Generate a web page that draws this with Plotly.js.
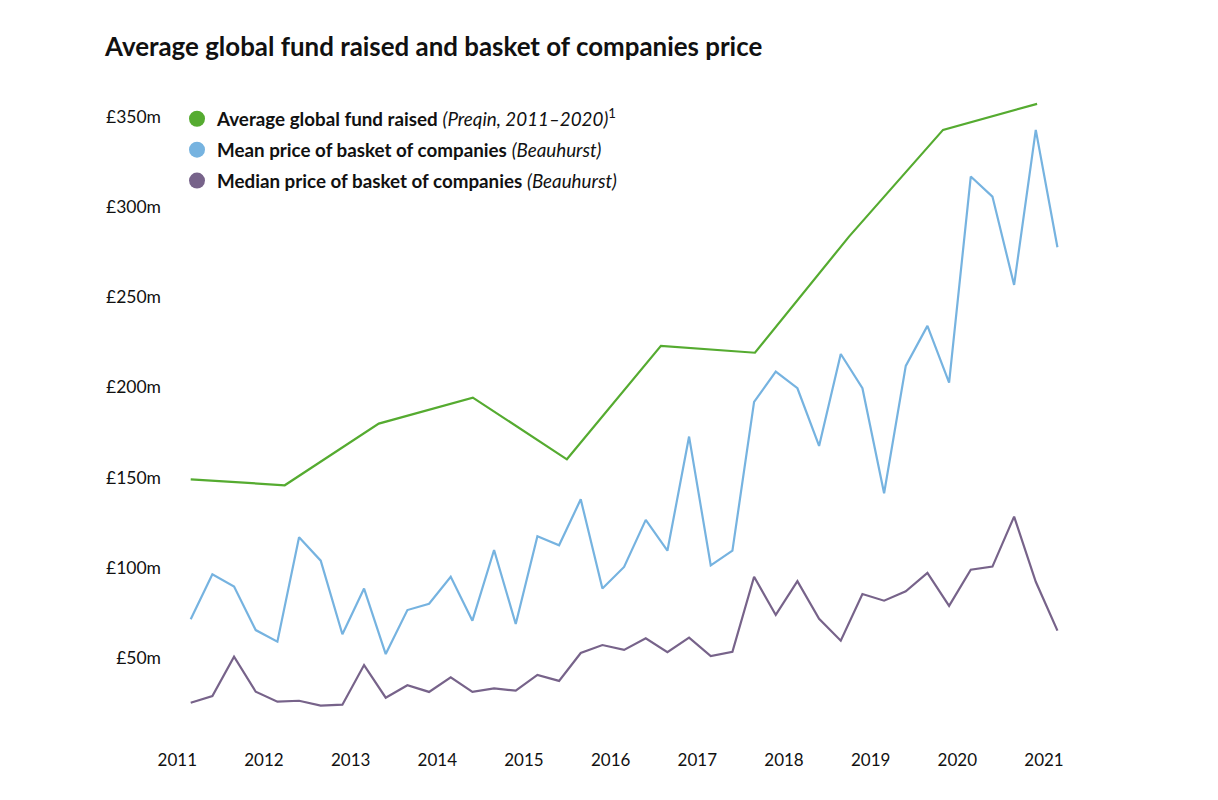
<!DOCTYPE html>
<html>
<head>
<meta charset="utf-8">
<script src="https://cdn.plot.ly/plotly-3.0.1.min.js"></script>
<style>
  html, body { margin: 0; padding: 0; background: #ffffff; }
  #chart { width: 1218px; height: 800px; }
</style>
</head>
<body>
<div id="chart"></div>
<script>
// ---- Data ----
const fundYears = [2011.155, 2012.24, 2013.325, 2014.41, 2015.495, 2016.58, 2017.665, 2018.75, 2019.835, 2020.92];
const fundRaised = [149.0, 145.7, 179.9, 194.3, 160.1, 223.0, 219.2, 283.6, 342.8, 357.2];

const quarterStart = 2011.155;
const quarterLabels = [
  "2011 Q1","2011 Q2","2011 Q3","2011 Q4",
  "2012 Q1","2012 Q2","2012 Q3","2012 Q4",
  "2013 Q1","2013 Q2","2013 Q3","2013 Q4",
  "2014 Q1","2014 Q2","2014 Q3","2014 Q4",
  "2015 Q1","2015 Q2","2015 Q3","2015 Q4",
  "2016 Q1","2016 Q2","2016 Q3","2016 Q4",
  "2017 Q1","2017 Q2","2017 Q3","2017 Q4",
  "2018 Q1","2018 Q2","2018 Q3","2018 Q4",
  "2019 Q1","2019 Q2","2019 Q3","2019 Q4",
  "2020 Q1","2020 Q2","2020 Q3","2020 Q4",
  "2021 Q1"
];
const meanPrice = [
  71.4, 96.3, 89.5, 65.4, 59.0, 116.9, 103.9, 63.1, 88.4, 52.1,
  76.5, 80.0, 95.0, 70.6, 109.8, 68.8, 117.4, 112.4, 137.9, 88.4,
  100.4, 126.5, 109.4, 172.7, 101.3, 109.4, 191.9, 208.7, 199.5, 167.5,
  218.5, 199.5, 141.3, 211.9, 234.1, 202.6, 316.9, 305.8, 256.8, 342.8,
  277.7
];
const medianPrice = [
  25.1, 28.8, 50.6, 31.2, 25.7, 26.2, 23.5, 24.0, 46.0, 27.9,
  34.8, 31.1, 39.2, 31.1, 33.1, 31.8, 40.5, 37.2, 52.7, 57.1,
  54.4, 60.8, 53.1, 61.2, 51.0, 53.4, 95.0, 73.8, 92.5, 71.7,
  59.5, 85.4, 81.7, 86.9, 97.1, 78.8, 98.9, 100.6, 128.3, 92.2,
  65.1
];
const xTickVals = [2011, 2012, 2013, 2014, 2015, 2016, 2017, 2018, 2019, 2020, 2021];
const xTickText = ["2011","2012","2013","2014","2015","2016","2017","2018","2019","2020","2021"];
const yTickVals = [50, 100, 150, 200, 250, 300, 350];
const yTickText = ["£50m","£100m","£150m","£200m","£250m","£300m","£350m"];

const seriesNames = [
  "<b>Average global fund raised</b> <i>(Preqin, 2011–2020)</i><sup>1</sup>",
  "<b>Mean price of basket of companies</b> <i>(Beauhurst)</i>",
  "<b>Median price of basket of companies</b> <i>(Beauhurst)</i>"
];

// ---- Styles ----
const GREEN = "#55ab30";
const BLUE = "#76b3e0";
const PURPLE = "#77638a";
const FONT = "'Source Sans Pro', Lato, 'Open Sans', sans-serif";

const quarterX = quarterLabels.map((_, i) => quarterStart + i * 0.25);

const lineTraces = [
  { x: fundYears, y: fundRaised, color: GREEN },
  { x: quarterX, y: meanPrice, color: BLUE },
  { x: quarterX, y: medianPrice, color: PURPLE }
].map((s, i) => ({
  type: "scatter", mode: "lines", x: s.x, y: s.y,
  line: { color: s.color, width: 2.2 },
  showlegend: false, legendgroup: "g" + i, hoverinfo: "x+y",
  name: seriesNames[i]
}));

const legendTraces = [GREEN, BLUE, PURPLE].map((c, i) => ({
  type: "scatter", mode: "markers", x: [null], y: [null],
  marker: { color: c, size: 18, symbol: "circle" },
  name: seriesNames[i], legendgroup: "g" + i, showlegend: true
}));

const layout = {
  width: 1218, height: 800,
  paper_bgcolor: "#ffffff", plot_bgcolor: "#ffffff",
  margin: { l: 170, r: 118, t: 90, b: 52 },
  font: { family: FONT, color: "#111111", size: 17 },
  title: {
    text: "<b>Average global fund raised and basket of companies price</b>",
    x: 105 / 1218, xanchor: "left", xref: "container",
    y: 1 - 47 / 800, yanchor: "middle", yref: "container",
    font: { family: FONT, size: 25.9, color: "#111111" }
  },
  xaxis: {
    range: [2010.916, 2021.646],
    tickvals: xTickVals, ticktext: xTickText,
    showgrid: false, zeroline: false, showline: false, ticks: "",
    tickfont: { family: FONT, size: 17, color: "#111111" },
    fixedrange: true
  },
  yaxis: {
    range: [0, 364.9],
    tickvals: yTickVals, ticktext: yTickText,
    showgrid: false, zeroline: false, showline: false, ticks: "",
    tickfont: { family: FONT, size: 17.5, color: "#111111" },
    ticklabelstandoff: 8,
    fixedrange: true
  },
  showlegend: true,
  legend: {
    x: (177 - 170) / 930, xanchor: "left",
    y: 1 - 10 / 658, yanchor: "top",
    bgcolor: "rgba(0,0,0,0)",
    font: { family: FONT, size: 18.8, color: "#111111" },
    traceorder: "grouped",
    tracegroupgap: 3.5,
    itemsizing: "trace"
  }
};

Plotly.newPlot("chart", [...lineTraces, ...legendTraces], layout, { displayModeBar: false, staticPlot: true });
</script>
</body>
</html>
